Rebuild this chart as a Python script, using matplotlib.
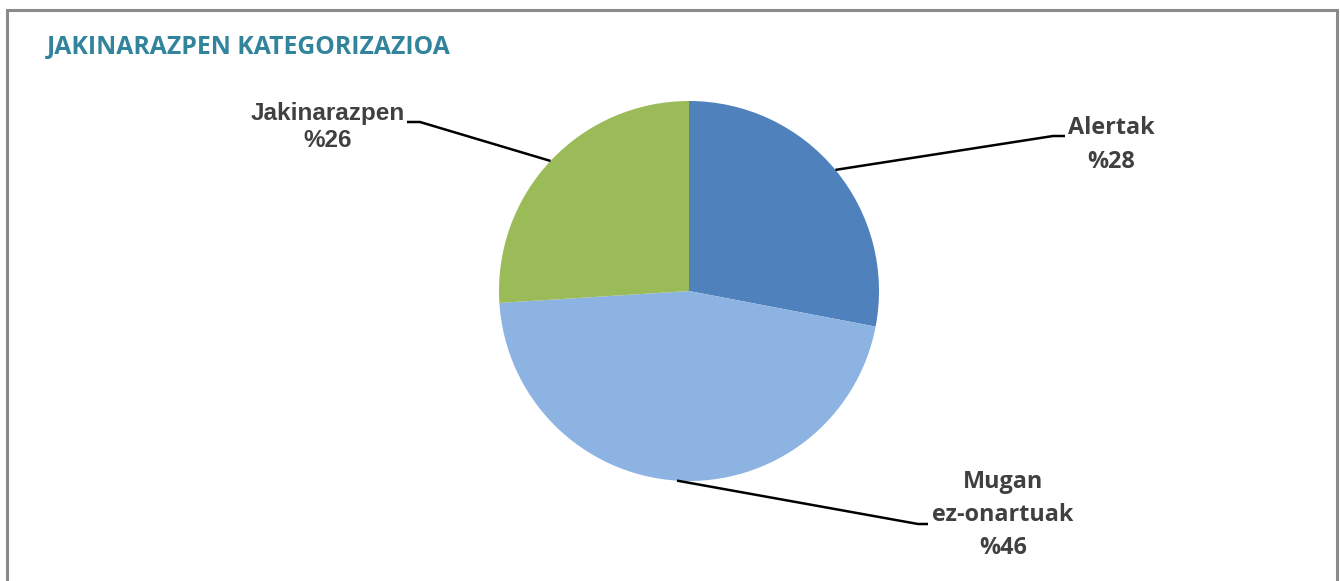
import numpy as np
import matplotlib.pyplot as plt
from matplotlib.patches import Rectangle

labels = ["Alertak", "Mugan\nez-onartuak", "Jakinarazpen"]
values = [28, 46, 26]
colors = ["#4F81BD", "#8DB3E2", "#9BBB59"]

W, H = 1340, 581
fig = plt.figure(figsize=(W / 100, H / 100), dpi=100)
ax = fig.add_axes([0, 0, 1, 1])

cx, cy, r = 689, H - 291, 190
wedges, _ = ax.pie(values, colors=colors, startangle=90, counterclock=False,
                   center=(cx, cy), radius=r, frame=True,
                   wedgeprops=dict(linewidth=0))
ax.set_xlim(0, W)
ax.set_ylim(0, H)
ax.set_aspect("equal")
ax.axis("off")

# border (no bottom edge visible)
ax.add_patch(Rectangle((7, -20), 1330, H - 10 + 20, fill=False,
                       edgecolor="#8a8a8a", linewidth=2.2, clip_on=False))

fig.text(47 / W, 1 - 47 / H, "JAKINARAZPEN KATEGORIZAZIOA", color="#31849B",
         fontsize=17.8, fontweight="bold", family="Open Sans", va="center", ha="left")

# label positions (pixel coords, y down): text center, elbow end, elbow start
lab_pos = [(1111, 145), (1003, 515), (328, 127)]
elbows = [((1065, 136), (1053, 136)), ((928, 524), (918, 524)), ((407, 122), (420, 122))]
fonts = ["Open Sans", "Open Sans", "Liberation Sans"]
sizes = [16.8, 16.8, 17.5]
spacing = [1.52, 1.52, 1.2]

for w, lab, v, (tx, ty), (e0, e1), fam, fs, ls in zip(wedges, labels, values, lab_pos,
                                                      elbows, fonts, sizes, spacing):
    ang = np.deg2rad((w.theta1 + w.theta2) / 2)
    px, py = cx + r * np.cos(ang), cy + r * np.sin(ang)
    ax.plot([e0[0], e1[0], px], [H - e0[1], H - e1[1], py], color="black", lw=1.8,
            solid_capstyle="butt")
    ax.text(tx, H - ty, f"{lab}\n%{v}", ha="center", va="center", fontsize=fs,
            fontweight="bold", color="#404040", family=fam, linespacing=ls)

fig.savefig("out.png", dpi=100)
